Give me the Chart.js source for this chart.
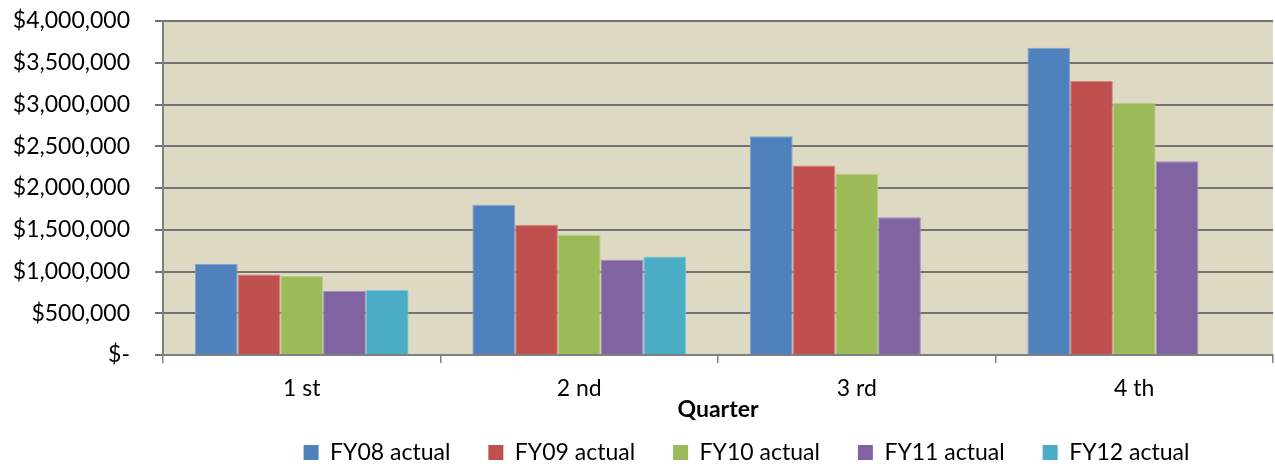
<!DOCTYPE html>
<html>
<head>
<meta charset="utf-8">
<script src="https://cdn.jsdelivr.net/npm/chart.js@4"></script>
<style>
  html, body { margin: 0; padding: 0; background: #fff; overflow: hidden; }
  #wrap { width: 1275px; height: 474px; }
</style>
</head>
<body>
<div id="wrap"><canvas id="chart" width="1275" height="474"></canvas></div>
<script>
// Chart data
const quarters = ['1 st', '2 nd', '3 rd', '4 th'];
const seriesNames = ['FY08 actual', 'FY09 actual', 'FY10 actual', 'FY11 actual', 'FY12 actual'];
const fy08 = [1090000, 1800000, 2620000, 3680000];
const fy09 = [965000, 1560000, 2270000, 3280000];
const fy10 = [945000, 1440000, 2170000, 3020000];
const fy11 = [765000, 1140000, 1650000, 2320000];
const fy12 = [777000, 1180000, null, null];
const yTicks = [0, 500000, 1000000, 1500000, 2000000, 2500000, 3000000, 3500000, 4000000];

const colors = ['#4F81BD', '#C0504D', '#9BBB59', '#8064A2', '#4BACC6'];
const edgeColors = ['#7FA3D0', '#D88582', '#B8D08A', '#A18BBE', '#80C6D8'];
const FONT = 'Lato';

// paint the tan plot area
const plotBackground = {
    id: 'plotBackground',
    beforeDraw(chart) {
        const { ctx, chartArea } = chart;
        ctx.save();
        ctx.fillStyle = '#DDD9C3';
        ctx.fillRect(chartArea.left, chartArea.top, chartArea.right - chartArea.left, chartArea.bottom - chartArea.top);
        ctx.restore();
    }
};

// nudge the legend row to the right, like the original
const legendShift = {
    id: 'legendShift',
    afterLayout(chart) {
        chart.legend.left += 110;
        chart.legend.right += 110;
    }
};

function money(v) {
    if (v === 0) return '$-';
    return '$' + v.toLocaleString('en-US');
}

new Chart(document.getElementById('chart'), {
    type: 'bar',
    data: {
        labels: quarters,
        datasets: [fy08, fy09, fy10, fy11, fy12].map((vals, i) => ({
            label: seriesNames[i],
            data: vals,
            backgroundColor: colors[i],
            borderColor: edgeColors[i],
            borderWidth: { top: 1, left: 1, right: 1, bottom: 0 },
            categoryPercentage: 0.77,
            barPercentage: 1
        }))
    },
    options: {
        responsive: false,
        animation: false,
        layout: { padding: { top: 21, right: 2, left: 0, bottom: 0 } },
        plugins: {
            tooltip: { enabled: false },
            legend: {
                position: 'bottom',
                labels: {
                    font: { family: FONT, size: 23 },
                    color: '#000',
                    boxWidth: 15,
                    boxHeight: 15,
                    padding: 38,
                    generateLabels(chart) {
                        // plain filled squares, no edge
                        return Chart.defaults.plugins.legend.labels.generateLabels(chart)
                            .map((item, i) => Object.assign(item, { strokeStyle: colors[i], lineWidth: 0 }));
                    }
                }
            }
        },
        scales: {
            x: {
                afterFit(scale) { scale.height = 48; },
                grid: {
                    display: true,
                    offset: true,
                    drawOnChartArea: false,
                    drawTicks: true,
                    tickLength: 8,
                    color: '#808080',
                    lineWidth: 1.5
                },
                border: { color: '#808080', width: 2 },
                ticks: {
                    font: { family: FONT, size: 23, lineHeight: 0.9 },
                    color: '#000',
                    padding: 15.6,
                    maxRotation: 0
                },
                title: {
                    display: true,
                    text: 'Quarter',
                    font: { family: FONT, size: 23, weight: 'bold', lineHeight: 0.9 },
                    color: '#000',
                    padding: { top: 0, bottom: -17.4 }
                }
            },
            y: {
                min: 0,
                max: 4000000,
                afterFit(scale) {
                    scale.width = 163;
                    scale.paddingTop = 0;
                    scale.paddingBottom = 0;
                },
                afterBuildTicks(scale) { scale.ticks = yTicks.map(v => ({ value: v })); },
                grid: {
                    color: '#737373',
                    lineWidth: 2,
                    tickLength: 8
                },
                border: { color: '#808080', width: 2 },
                ticks: {
                    font: { family: FONT, size: 23 },
                    color: '#000',
                    padding: 25,
                    callback: v => money(v)
                }
            }
        }
    },
    plugins: [plotBackground, legendShift]
});
</script>
</body>
</html>
